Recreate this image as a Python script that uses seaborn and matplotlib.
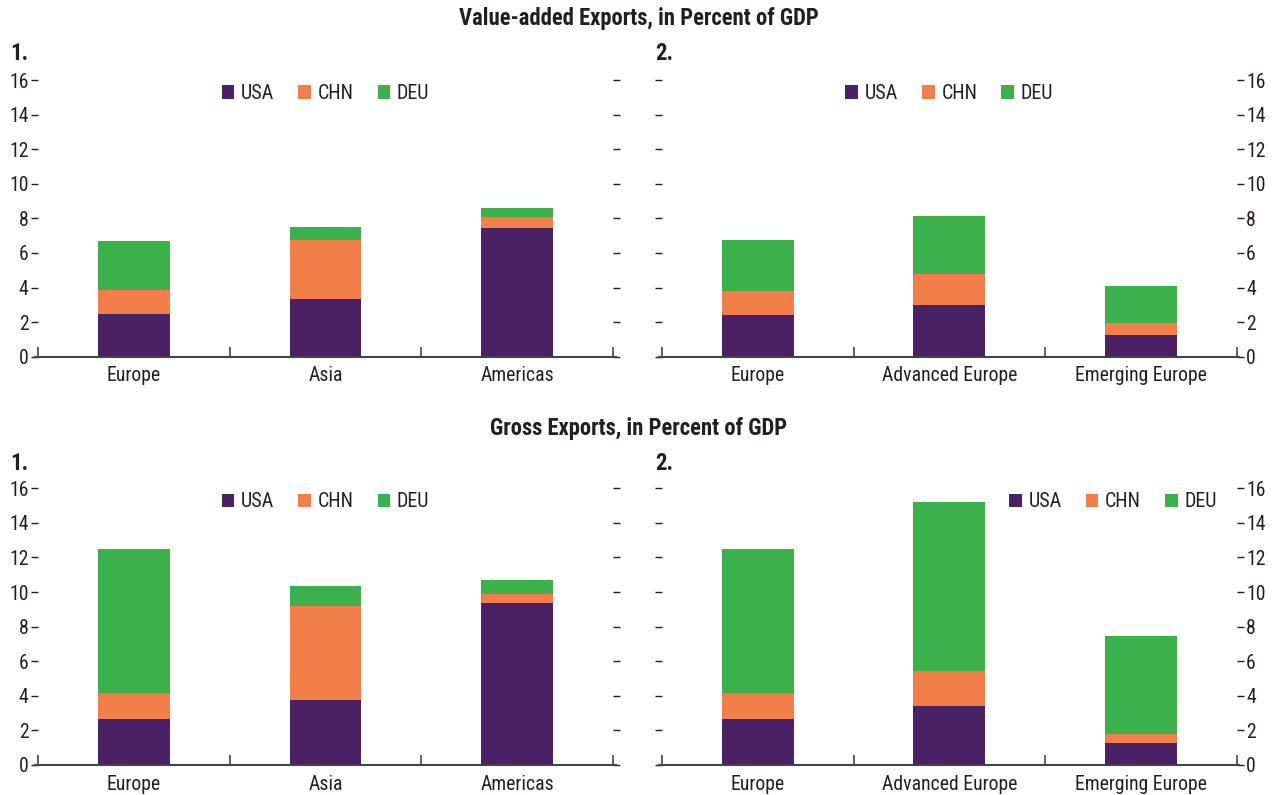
import matplotlib
matplotlib.use("Agg")
import matplotlib.pyplot as plt
from matplotlib import font_manager as fm
import seaborn as sns
import pandas as pd
from matplotlib.patches import Patch

# ---- data (percent of GDP) ----
regions_1 = ["Europe", "Asia", "Americas"]
regions_2 = ["Europe", "Advanced Europe", "Emerging Europe"]
series = ["USA", "CHN", "DEU"]

# Value-added exports
va_usa_1 = [2.47, 3.33, 7.44]
va_chn_1 = [1.38, 3.41, 0.63]
va_deu_1 = [2.84, 0.76, 0.52]

va_usa_2 = [2.41, 2.99, 1.25]
va_chn_2 = [1.39, 1.79, 0.70]
va_deu_2 = [2.94, 3.35, 2.13]

# Gross exports
gross_usa_1 = [2.66, 3.76, 9.36]
gross_chn_1 = [1.50, 5.43, 0.52]
gross_deu_1 = [8.33, 1.16, 0.81]

gross_usa_2 = [2.66, 3.41, 1.27]
gross_chn_2 = [1.50, 2.02, 0.52]
gross_deu_2 = [8.33, 9.77, 5.67]

y_ticks = [0, 2, 4, 6, 8, 10, 12, 14, 16]

colors = {"USA": "#4a2164", "CHN": "#f27f4a", "DEU": "#3cb04a"}
ink = "#231f20"

sns.set_theme(style="white")

# prefer a narrow sans face when one is available
installed = {f.name for f in fm.fontManager.ttflist}
stretch = "normal"
family = None
for cand in ["Liberation Sans Narrow", "Roboto Condensed", "Open Sans Condensed",
             "DejaVu Sans Condensed"]:
    if cand in installed:
        family = cand
        break
if family is None:
    dv_cond = [f for f in fm.fontManager.ttflist
               if f.name == "DejaVu Sans" and "condensed" in str(f.stretch).lower()]
    if dv_cond:
        family = "DejaVu Sans"
        stretch = "condensed"
    else:
        family = "Liberation Sans"

plt.rcParams["font.family"] = [family, "DejaVu Sans"]
plt.rcParams["font.stretch"] = stretch
plt.rcParams["text.color"] = ink
plt.rcParams["xtick.color"] = ink
plt.rcParams["ytick.color"] = ink

fig = plt.figure(figsize=(12.77, 7.95), dpi=100)

W, H = 1277.0, 795.0
FS = 14.2


def axes_at(left, top, right, bottom):
    return fig.add_axes([left / W, 1 - bottom / H, (right - left) / W, (bottom - top) / H])


def panel(ax, cats, usa, chn, deu, label_side, legend_kw):
    df = pd.DataFrame({"region": cats, "USA": usa, "CHN": chn, "DEU": deu})
    df["lvl_usa"] = df["USA"]
    df["lvl_chn"] = df["USA"] + df["CHN"]
    df["lvl_deu"] = df["USA"] + df["CHN"] + df["DEU"]
    # stacked bars: draw cumulative totals from the top layer down
    for name, col in [("DEU", "lvl_deu"), ("CHN", "lvl_chn"), ("USA", "lvl_usa")]:
        sns.barplot(data=df, x="region", y=col, order=cats, color=colors[name],
                    saturation=1, width=0.375, linewidth=0, errorbar=None, ax=ax)

    ax.set_xlim(-0.5, 2.5)
    ax.set_ylim(0, 16)
    ax.set_yticks(y_ticks)
    ax.set_yticklabels([str(t) for t in y_ticks])
    ax.set_xlabel("")
    ax.set_ylabel("")

    for s in ["top", "left", "right"]:
        ax.spines[s].set_visible(False)
    ax.spines["bottom"].set_color("#444444")
    ax.spines["bottom"].set_linewidth(1.5)
    ax.spines["bottom"].set_bounds(-0.515, 2.515)

    ax.tick_params(axis="y", which="major", direction="out", length=5, width=1,
                   pad=2, labelsize=FS, left=True, right=True,
                   labelleft=(label_side == "left"), labelright=(label_side == "right"))
    ax.tick_params(axis="x", which="major", length=0, pad=7, labelsize=FS)
    ax.set_xticks([-0.5, 0.5, 1.5, 2.5], minor=True)
    ax.tick_params(axis="x", which="minor", direction="in", length=7, width=1.2,
                   color="#444444", bottom=True)
    ax.grid(False)

    handles = [Patch(facecolor=colors[s], edgecolor="none") for s in series]
    ax.legend(handles, series, frameon=False, ncol=3, fontsize=14.4,
              handlelength=0.63, handleheight=0.63, handletextpad=0.34,
              columnspacing=1.2, borderpad=0, borderaxespad=0.2, **legend_kw)


ax1 = axes_at(38.25, 80, 612.75, 356.7)
ax2 = axes_at(662, 80, 1236.5, 356.7)
ax3 = axes_at(38.25, 488.3, 612.75, 765)
ax4 = axes_at(662, 488.3, 1236.5, 765)

center_legend = dict(loc="upper center", bbox_to_anchor=(0.5, 1.0))
panel(ax1, regions_1, va_usa_1, va_chn_1, va_deu_1, "left", center_legend)
panel(ax2, regions_2, va_usa_2, va_chn_2, va_deu_2, "right", center_legend)
panel(ax3, regions_1, gross_usa_1, gross_chn_1, gross_deu_1, "left", center_legend)
panel(ax4, regions_2, gross_usa_2, gross_chn_2, gross_deu_2, "right",
      dict(loc="upper right", bbox_to_anchor=(0.973, 1.0)))

fig.text(0.5, 1 - 18 / H, "Value-added Exports, in Percent of GDP",
         ha="center", va="center", fontsize=16.3, fontweight="bold")
fig.text(0.5, 1 - 428 / H, "Gross Exports, in Percent of GDP",
         ha="center", va="center", fontsize=16.3, fontweight="bold")

for x, y, t in [(10, 54, "1."), (655, 54, "2."), (10, 463, "1."), (655, 463, "2.")]:
    fig.text(x / W, 1 - y / H, t, ha="left", va="center", fontsize=16.5, fontweight="bold")

fig.savefig("out.png", dpi=100)
